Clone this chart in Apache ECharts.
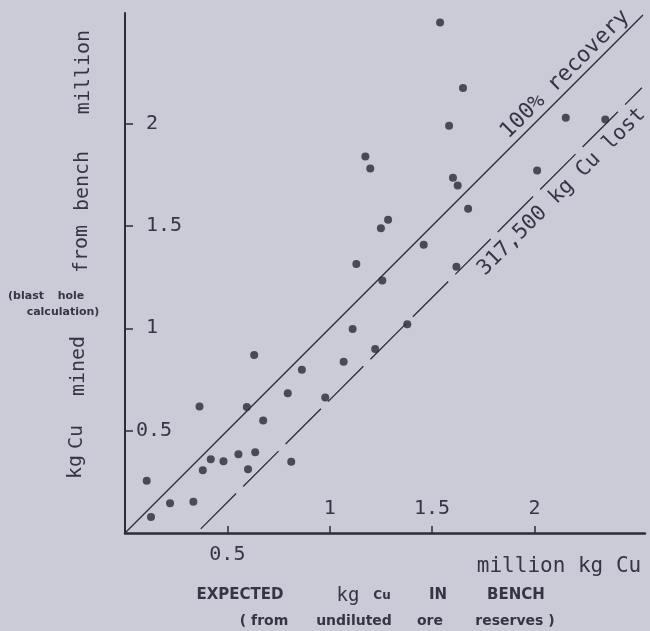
<!DOCTYPE html>
<html><head><meta charset="utf-8">
<script src="https://cdn.jsdelivr.net/npm/echarts@6/dist/echarts.min.js"></script>
<style>html,body{margin:0;padding:0;background:#cbcad7}#c{width:650px;height:631px}</style>
</head><body><div id="c"></div>
<script>
// expected kg Cu in bench (million) vs kg Cu mined from bench (million)
const expectedCu = [0.106,0.127,0.220,0.334,0.364,0.380,0.419,0.481,0.554,0.636,0.601,0.595,0.675,0.631,0.795,0.812,0.864,0.978,1.068,1.112,1.222,1.130,1.257,1.250,1.285,1.379,1.459,1.619,1.676,1.174,1.198,1.539,1.583,1.602,1.625,1.651,2.013,2.153,2.346];
const minedCu    = [0.255,0.078,0.145,0.153,0.618,0.307,0.360,0.350,0.385,0.395,0.311,0.615,0.550,0.870,0.683,0.348,0.797,0.662,0.836,0.997,0.899,1.314,1.233,1.488,1.530,1.020,1.408,1.301,1.584,1.839,1.780,2.494,1.989,1.735,1.698,2.174,1.771,2.028,2.020];
// 100% recovery line and the "317,500 kg Cu lost" line
const recoveryX = [0, 2.53];
const recoveryY = [0, 2.53];
const lostX = [0.37, 2.525];
const lostY = [0.02, 2.175];
// ticks
const xTicks = [0.5, 1, 1.5, 2];
const yTicks = [0.5, 1, 1.5, 2];
const xTickLabels = ['0.5', '1', '1.5', '2'];
const yTickLabels = ['0.5', '1', '1.5', '2'];

const MONO = '"DejaVu Sans Mono", monospace';
const SANS = '"DejaVu Sans", sans-serif';
const INK = '#363545';
const AXIS = '#2c2b38';
const AXMAX = 2.54;

const zip = (a, b) => a.map((v, i) => [v, b[i]]);
const lbl = (ticks, labels) => v => { const i = ticks.indexOf(v); return i >= 0 ? labels[i] : ''; };

const chart = echarts.init(document.getElementById('c'), null, {renderer: 'canvas'});
const baseAxis = {type: 'value', min: 0, max: AXMAX, splitLine: {show: false}};
chart.setOption({
  animation: false,
  backgroundColor: '#cbcad7',
  grid: {left: 125, right: 5, top: 13, bottom: 98, containLabel: false, outerBoundsMode: 'none'},
  xAxis: [
    Object.assign({}, baseAxis, {
      position: 'bottom',
      axisLine: {show: true, onZero: false, lineStyle: {color: AXIS, width: 2.5}},
      axisTick: {show: true, inside: true, length: 7, customValues: xTicks, lineStyle: {color: AXIS, width: 1.5}},
      axisLabel: {show: true, inside: true, margin: 14, customValues: xTicks.slice(1), formatter: lbl(xTicks, xTickLabels),
        fontFamily: MONO, fontSize: 20, color: INK}
    }),
    Object.assign({}, baseAxis, {
      position: 'bottom',
      axisLine: {show: false}, axisTick: {show: false},
      axisLabel: {show: true, margin: 12, customValues: xTicks.slice(0, 1), formatter: lbl(xTicks, xTickLabels),
        fontFamily: MONO, fontSize: 20, color: INK}
    })
  ],
  yAxis: [
    Object.assign({}, baseAxis, {
      position: 'left',
      axisLine: {show: true, onZero: false, lineStyle: {color: AXIS, width: 2}},
      axisTick: {show: true, inside: true, length: 8, customValues: yTicks, lineStyle: {color: AXIS, width: 1.5}},
      axisLabel: {show: true, inside: true, margin: 21, customValues: yTicks.slice(1), formatter: lbl(yTicks, yTickLabels),
        fontFamily: MONO, fontSize: 20, color: INK, padding: [8, 0, 0, 0]}
    }),
    Object.assign({}, baseAxis, {
      position: 'left',
      axisLine: {show: false}, axisTick: {show: false},
      axisLabel: {show: true, inside: true, margin: 11, customValues: yTicks.slice(0, 1), formatter: lbl(yTicks, yTickLabels),
        fontFamily: MONO, fontSize: 20, color: INK, padding: [8, 0, 0, 0]}
    })
  ],
  series: [
    {type: 'line', xAxisIndex: 0, yAxisIndex: 0, data: zip(recoveryX, recoveryY), showSymbol: false, silent: true,
      lineStyle: {color: AXIS, width: 1.3}},
    {type: 'line', xAxisIndex: 0, yAxisIndex: 0, data: zip(lostX, lostY), showSymbol: false, silent: true,
      lineStyle: {color: AXIS, width: 1.3, type: [50, 10]}},
    {type: 'scatter', xAxisIndex: 0, yAxisIndex: 0, data: zip(expectedCu, minedCu), symbolSize: 8,
      itemStyle: {color: '#2a2932'}}
  ]
});

// annotation anchors in data space (for rotated line labels)
const p1 = chart.convertToPixel({gridIndex: 0}, [2.150, 2.240]);
const p2 = chart.convertToPixel({gridIndex: 0}, [2.133, 1.667]);

const t = (text, x, y, font, extra) => Object.assign({
  type: 'text', x: x, y: y, silent: true,
  style: {text: text, font: font, fill: INK, textAlign: 'center', textVerticalAlign: 'middle'}
}, extra || {});
const rot = (text, x, y, font, r) => t(text, x, y, font, {rotation: r});

chart.setOption({
  graphic: [
    rot('100% recovery', p1[0], p1[1], '22px ' + MONO, Math.PI / 4),
    rot('317,500 kg Cu lost', p2[0], p2[1], '21px ' + MONO, Math.PI / 4),
    t('million kg Cu', 559, 567, '21px ' + MONO),
    t('EXPECTED', 240, 595, 'bold 15px ' + SANS),
    t('kg', 348, 596, '19px ' + MONO),
    t('Cu', 382, 596, 'bold 12px ' + SANS),
    t('IN', 438, 595, 'bold 15px ' + SANS),
    t('BENCH', 516, 595, 'bold 15px ' + SANS),
    t('( from', 264, 621, 'bold 14px ' + SANS),
    t('undiluted', 354, 621, 'bold 14px ' + SANS),
    t('ore', 430, 621, 'bold 14px ' + SANS),
    t('reserves )', 515, 621, 'bold 14px ' + SANS),
    rot('kg', 76, 467, '20px ' + MONO, Math.PI / 2),
    rot('Cu', 77, 437, '20px ' + MONO, Math.PI / 2),
    rot('mined', 79, 366, '20px ' + MONO, Math.PI / 2),
    rot('from', 82, 249, '20px ' + MONO, Math.PI / 2),
    rot('bench', 83, 181, '20px ' + MONO, Math.PI / 2),
    rot('million', 84, 72, '20px ' + MONO, Math.PI / 2),
    t('(blast', 26, 296, 'bold 11px ' + SANS),
    t('hole', 71, 296, 'bold 11px ' + SANS),
    t('calculation)', 63, 312, 'bold 11px ' + SANS)
  ]
});
</script>
</body></html>
